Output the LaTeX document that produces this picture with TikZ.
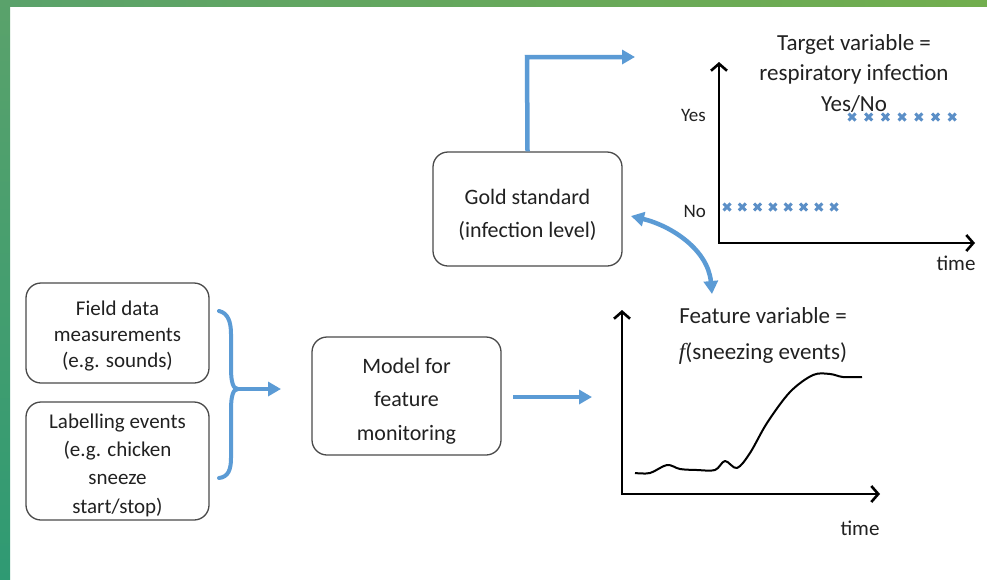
\documentclass[tikz,border=0pt]{standalone}
\usepackage{fontspec}
\setmainfont{Carlito}
\newfontfamily\serifit{Liberation Serif}
\usetikzlibrary{arrows.meta}
\definecolor{arrblue}{HTML}{5B9BD5}
\definecolor{gA}{HTML}{5AA26B}
\definecolor{gB}{HTML}{72AE4E}
\definecolor{gC}{HTML}{2F9A73}
\definecolor{boxline}{HTML}{4A4A4A}
\definecolor{markblue}{HTML}{5B8FC7}
\begin{document}
\begin{tikzpicture}[x=1pt,y=-1pt,
  box/.style={draw=boxline, line width=1.3pt, rounded corners=15pt, inner sep=0pt},
  boxtext/.style={align=center, inner sep=0pt, text=black!87},
  flow/.style={draw=arrblue, line width=4.5pt, -{Triangle[length=13pt,width=14pt]}},
  flowtwo/.style={draw=arrblue, line width=4.5pt, {Triangle[length=13pt,width=14pt]}-{Triangle[length=13pt,width=14pt]}},
  axis/.style={line width=2.6pt, line join=miter, {Straight Barb[length=7pt,width=16pt]}-{Straight Barb[length=7pt,width=16pt]}},
  lbl/.style={inner sep=0pt, text=black!87},
  xmark/.style={draw=markblue, line width=3pt}
]
\useasboundingbox (0,0) rectangle (987,579);
\fill[white] (0,0) rectangle (987,579);
\shade[left color=gA, right color=gB] (0,0) rectangle (987,6);
\shade[top color=gA, bottom color=gC] (0,0) rectangle (10,579);

% boxes
\node[box, minimum width=183pt, minimum height=100pt] (field) at (117.5,333) {};
\node[boxtext, font=\fontsize{21}{26}\selectfont] (fieldtxt) at (117.5,336) {Field data\\measurements\\(e.g. sounds)};
\node[box, minimum width=183pt, minimum height=118pt] (label) at (117.5,461) {};
\node[boxtext, font=\fontsize{21}{28.3}\selectfont] (labeltxt) at (117.5,465) {Labelling events\\(e.g. chicken\\sneeze\\start/stop)};
\node[box, minimum width=189pt, minimum height=118pt] (model) at (406.5,396) {};
\node[boxtext, font=\fontsize{22}{33.5}\selectfont] (modeltxt) at (406.5,401) {Model for\\feature\\monitoring};
\node[box, minimum width=189pt, minimum height=114pt] (gold) at (527.5,209) {};
\node[boxtext, font=\fontsize{22}{33}\selectfont] (goldtxt) at (527.5,215) {Gold standard\\(infection level)};

% brace
\coordinate (bmid) at (238,389);
\coordinate (btip) at (281,389);
\draw[draw=arrblue, line width=4pt, line cap=round]
  (219,311) .. controls (228,313) and (231,322) .. (231,334) -- (231,368)
  .. controls (231,382) and (233,389) .. (bmid)
  .. controls (233,389) and (231,396) .. (231,410) -- (231,458)
  .. controls (231,470) and (228,477) .. (219,478);
\draw[flow] (bmid) -- (btip);

% model -> feature
\coordinate (mstart) at (513,397);
\coordinate (mend) at (592,397);
\draw[flow] (mstart) -- (mend);

% gold -> target
\coordinate (gtop) at (gold.north);
\coordinate (gcorner) at (527,57);
\coordinate (gend) at (635,57);
\draw[flow, line join=miter] (gtop) -- (gcorner) -- (gend);

% double curved arrow
\coordinate (ca) at (631,216);
\coordinate (cb) at (712,294);
\draw[flowtwo] (ca) .. controls (672,226) and (708,250) .. (cb);

% top chart
\coordinate (o1) at (719,243);
\coordinate (y1) at (719,62);
\coordinate (x1) at (975,243);
\draw[axis] (y1) -- (o1) -- (x1);
\node[lbl, font=\fontsize{23}{30.5}\selectfont, align=center] (target) at (854,73) {Target variable =\\respiratory infection\\Yes/No};
\node[lbl, font=\fontsize{19}{22}\selectfont, anchor=east] (yes) at (706,115) {Yes};
\node[lbl, font=\fontsize{19}{22}\selectfont, anchor=east] (no) at (706,211) {No};
\node[lbl, font=\fontsize{21}{24}\selectfont] (time1) at (956,263) {time};
\foreach \i in {0,...,6} {
  \draw[xmark] ({852+\i*16.7-3.5},113.5) -- ++(7,7) ({852+\i*16.7-3.5},120.5) -- ++(7,-7);
}
\foreach \i in {0,...,7} {
  \draw[xmark] ({727+\i*15.3-3.5},203.5) -- ++(7,7) ({727+\i*15.3-3.5},210.5) -- ++(7,-7);
}

% bottom chart
\coordinate (o2) at (622,494);
\coordinate (y2) at (622,310);
\coordinate (x2) at (880,494);
\draw[axis] (y2) -- (o2) -- (x2);
\node[lbl, font=\fontsize{23}{36}\selectfont, align=center] (feature) at (763,336) {Feature variable =\\{\serifit\itshape f}(sneezing events)};
\node[lbl, font=\fontsize{21}{24}\selectfont] (time2) at (860,528) {time};
\draw[line width=2pt, line join=round] plot[smooth, tension=0.55] coordinates {
 (635,473) (650,473) (667,465) (680,469) (697,470) (715,470) (725,461) (737,468)
 (750,453) (767,423) (790,392) (813,375) (830,374) (843,377) (862,377)};
\end{tikzpicture}
\end{document}
